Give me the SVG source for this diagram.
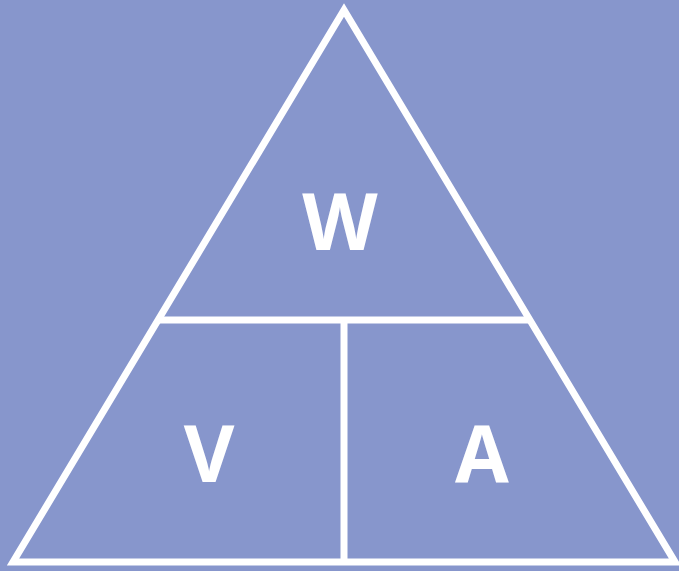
<svg xmlns="http://www.w3.org/2000/svg" width="679" height="571" viewBox="0 0 679 571">
<style>
.ln{stroke:#fff;stroke-width:7;fill:none;stroke-linejoin:miter}
.lbl{fill:#fff;font-family:"Open Sans","Liberation Sans",Arial,sans-serif;font-weight:bold;font-size:78px;text-anchor:middle}
</style>
<rect x="0" y="0" width="679" height="571" fill="#8796CC"/>
<g id="connectors">
<polygon class="ln" points="344,10 675,562 13,562"/>
<line class="ln" x1="158" y1="320" x2="530" y2="320"/>
<line class="ln" x1="344" y1="320" x2="344" y2="562"/>
</g>
<g id="node-W"><text class="lbl" x="340" y="250">W</text></g>
<g id="node-V"><text class="lbl" x="209" y="482">V</text></g>
<g id="node-A"><text class="lbl" x="482" y="482">A</text></g>
</svg>
